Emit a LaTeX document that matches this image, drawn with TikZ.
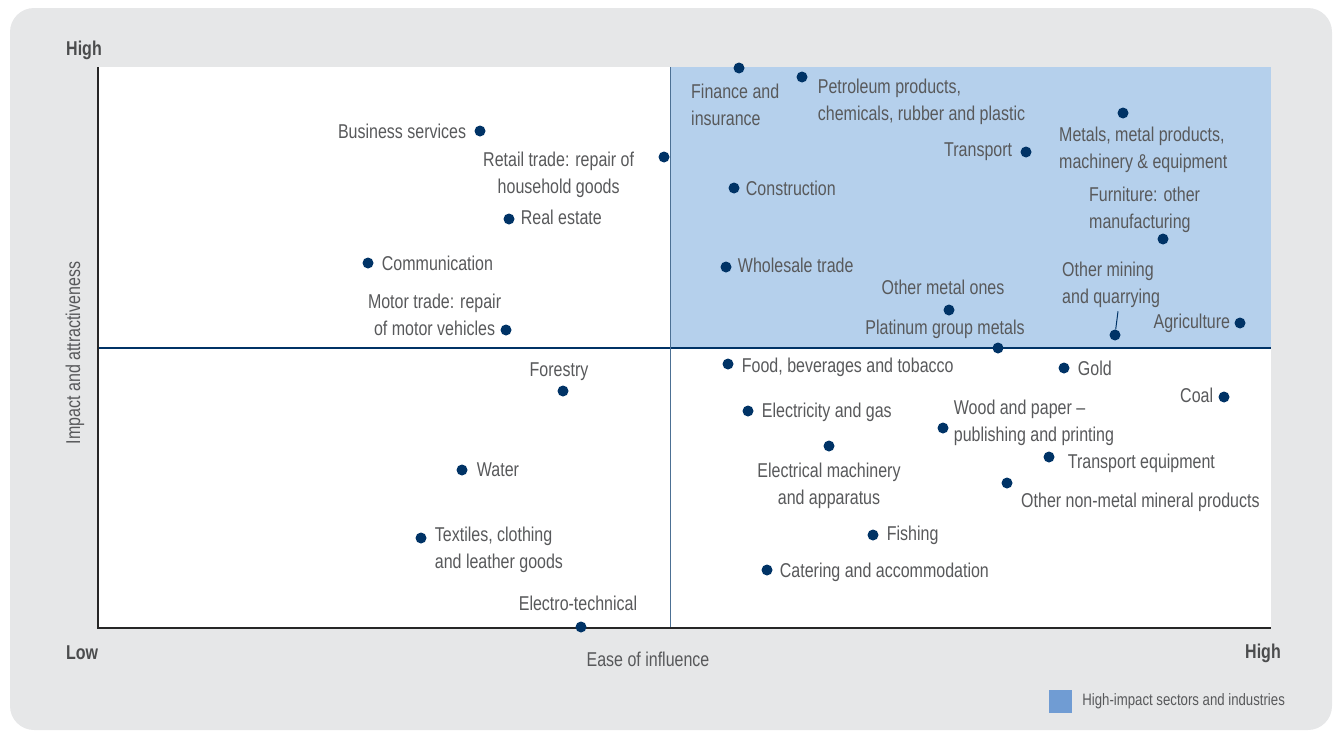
\documentclass[tikz,border=0pt]{standalone}
\usepackage{fontspec}
\setmainfont[FakeStretch=0.8]{Liberation Sans}
\usetikzlibrary{positioning}

\definecolor{panel}{HTML}{E6E7E8}
\definecolor{hiblue}{HTML}{B5D0EC}
\definecolor{keyblue}{HTML}{709CD3}
\definecolor{navy}{HTML}{003366}
\definecolor{ink}{HTML}{58595B}

\tikzset{
  sector/.style={circle, fill=navy, inner sep=0pt, minimum size=11pt},
  lab/.style={inner sep=0pt, text=ink, font=\fontsize{20}{27}\selectfont},
  axlab/.style={inner sep=0pt, text=ink, font=\fontsize{20}{27}\selectfont},
  axhead/.style={inner sep=0pt, text=ink!85!black, font=\bfseries\fontsize{20}{27}\selectfont},
}

\begin{document}
\begin{tikzpicture}[x=1pt, y=-1pt]
    \useasboundingbox (0,0) rectangle (1334,731);
    \fill[panel, rounded corners=24pt] (10,8) rectangle (1332,730);

    \coordinate (O) at (98,628);
    \coordinate (T) at (98,67);
    \coordinate (R) at (1271,628);
    \coordinate (M) at (670,348);

    \fill[white] (T) rectangle (R);
    \fill[hiblue] (T -| M) rectangle (R |- M);
    \draw[navy, line width=1.2pt] (O |- M) -- (R |- M);
    \draw[navy!70, line width=1pt] (T -| M) -- (O -| M);
    \draw[black!85, line width=2.5pt] (T) -- (O) -- (R);

    \node[axhead] (hi) at (84,50) {High};
    \node[axhead] (lo) at (82,653) {Low};
    \node[axhead] (hx) at (1263,653) {High};
    \node[axlab] (xl) at (648,659) {Ease of influence};
    \node[axlab, rotate=90] (yl) at (75,353) {Impact and attractiveness};

    \node[sector] (fin) at (739,68) {};
    \node[sector] (pet) at (802,77) {};
    \node[sector] (bus) at (480,131) {};
    \node[sector] (ret) at (664,157) {};
    \node[sector] (rea) at (509,219) {};
    \node[sector] (com) at (368,263) {};
    \node[sector] (mot) at (506,330) {};
    \node[sector] (fore) at (563,391) {};
    \node[sector] (wat) at (462,470) {};
    \node[sector] (tex) at (421,538) {};
    \node[sector] (ele) at (581,627) {};
    \node[sector] (con) at (734,188) {};
    \node[sector] (who) at (726,267) {};
    \node[sector] (tra) at (1026,152) {};
    \node[sector] (met) at (1123,113) {};
    \node[sector] (fur) at (1163,239) {};
    \node[sector] (omi) at (1115,335) {};
    \node[sector] (agr) at (1240,323) {};
    \node[sector] (omo) at (949,310) {};
    \node[sector] (pla) at (998,348) {};
    \node[sector] (foo) at (728,364) {};
    \node[sector] (gol) at (1064,368) {};
    \node[sector] (coa) at (1224,397) {};
    \node[sector] (elg) at (748,411) {};
    \node[sector] (woo) at (943,428) {};
    \node[sector] (elm) at (829,446) {};
    \node[sector] (teq) at (1049,457) {};
    \node[sector] (onm) at (1007,483) {};
    \node[sector] (fis) at (873,535) {};
    \node[sector] (cat) at (767,570) {};

    \node[lab, align=left, below=10pt of fin, anchor=north west, xshift=-48pt] (finl) {Finance and\\insurance};
    \node[lab, align=left, right=10pt of pet, yshift=-25pt] (petl) {Petroleum products,\\chemicals, rubber and plastic};
    \node[lab, left=8pt of bus] (busl) {Business services};
    \node[lab, align=center, left=24pt of ret, yshift=-18pt] (retl) {Retail trade: repair of\\household goods};
    \node[lab, right=6pt of rea, yshift=2pt] (real) {Real estate};
    \node[lab, right=8pt of com] (coml) {Communication};
    \node[lab, align=center, left=-1pt of mot, yshift=15pt] (motl) {Motor trade: repair\\of motor vehicles};
    \node[lab, above=4pt of fore, xshift=-4pt] (forel) {Forestry};
    \node[lab, right=9pt of wat] (watl) {Water};
    \node[lab, align=left, right=8pt of tex, yshift=-12pt] (texl) {Textiles, clothing\\and leather goods};
    \node[lab, above=10pt of ele, xshift=-3pt] (elel) {Electro-technical};
    \node[lab, right=6pt of con] (conl) {Construction};
    \node[lab, right=6pt of who, yshift=2pt] (whol) {Wholesale trade};
    \node[lab, left=8pt of tra] (tral) {Transport};
    \node[lab, align=left, below=8pt of met, anchor=north west, xshift=-64pt] (metl) {Metals, metal products,\\machinery \& equipment};
    \node[lab, align=left, above=0pt of fur, anchor=south west, xshift=-74pt] (furl) {Furniture: other\\manufacturing};
    \node[lab, align=left, above=21pt of omi, anchor=south west, xshift=-53pt] (omil) {Other mining\\and quarrying};
    \draw[navy, line width=1pt] ([xshift=56pt, yshift=-3pt]omil.south west) -- (omi);
    \node[lab, left=4pt of agr] (agrl) {Agriculture};
    \node[lab, above=9pt of omo, xshift=-6pt] (omol) {Other metal ones};
    \node[lab, above=3pt of pla, xshift=-53pt] (plal) {Platinum group metals};
    \node[lab, right=8pt of foo, yshift=-3pt] (fool) {Food, beverages and tobacco};
    \node[lab, right=8pt of gol] (goll) {Gold};
    \node[lab, left=5pt of coa, yshift=2pt] (coal) {Coal};
    \node[lab, right=8pt of elg, yshift=-1pt] (elgl) {Electricity and gas};
    \node[lab, align=left, right=5pt of woo, yshift=5pt] (wool) {Wood and paper --\\publishing and printing};
    \node[lab, align=center, below=11pt of elm] (elml) {Electrical machinery\\and apparatus};
    \node[lab, right=13pt of teq, yshift=-6pt] (teql) {Transport equipment};
    \node[lab, below right=6pt and 10pt of onm] (onml) {Other non-metal mineral products};
    \node[lab, right=8pt of fis] (fisl) {Fishing};
    \node[lab, right=7pt of cat, yshift=-2pt] (catl) {Catering and accommodation};

    \node[fill=keyblue, inner sep=0pt, minimum size=23pt] (key) at (1060.5,701.5) {};
    \node[lab, font=\fontsize{16.5}{20}\selectfont, right=10pt of key] (keyl) {High-impact sectors and industries};
\end{tikzpicture}
\end{document}
